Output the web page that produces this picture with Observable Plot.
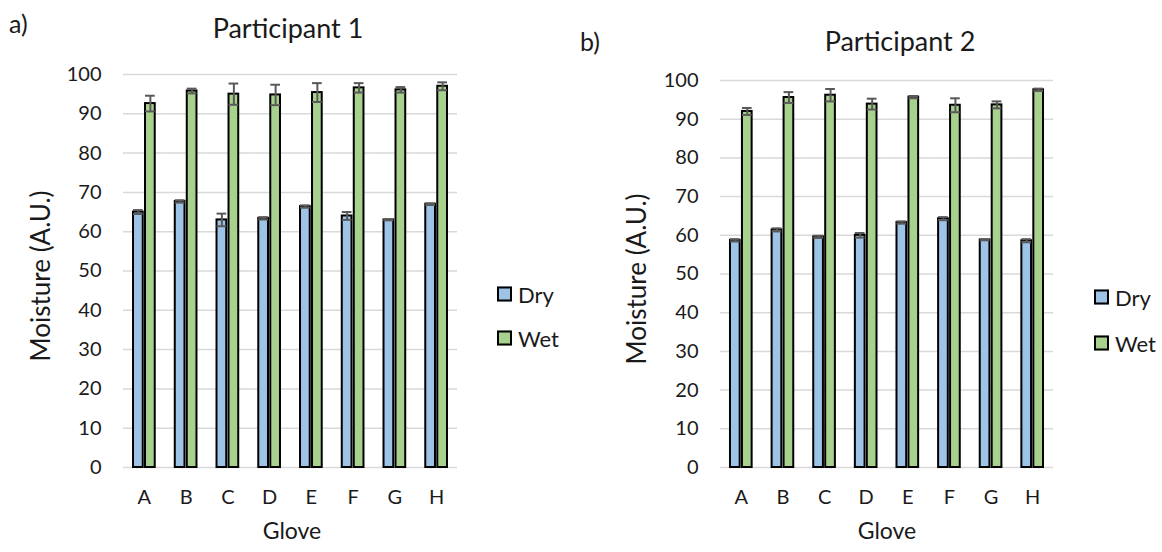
<!DOCTYPE html>
<html>
<head>
<meta charset="utf-8">
<script src="https://cdn.jsdelivr.net/npm/d3@7"></script>
<script src="https://cdn.jsdelivr.net/npm/@observablehq/plot@0.6"></script>
<style>
  html, body { margin: 0; padding: 0; background: #fff; }
  #wrap { position: relative; width: 1162px; height: 552px; overflow: hidden; font-family: Lato, "Open Sans", sans-serif; color: #1a1a1a; }
  .abs { position: absolute; white-space: nowrap; }
  .panel { position: absolute; top: 0; }
  .title { font-size: 27px; transform: translate(-50%, -50%); }
  .tag { font-size: 25px; transform: translate(0, -50%); }
  .ylab { font-size: 26px; transform: translate(-50%, -50%) rotate(-90deg); }
  .xlab { font-size: 23px; transform: translate(-50%, -50%); }
  .leg { font-size: 22px; display: flex; align-items: center; transform: translate(0, -50%); }
  .sw { width: 11px; height: 11px; border: 2px solid #000; margin-right: 6px; }
</style>
</head>
<body>
<div id="wrap"></div>
<script>
// ---- data ----
const gloves = ["A", "B", "C", "D", "E", "F", "G", "H"];
const seriesNames = ["Dry", "Wet"];
const yTicks = [0, 10, 20, 30, 40, 50, 60, 70, 80, 90, 100];

const p1Dry    = [65.0, 67.7, 63.0, 63.4, 66.4, 64.0, 63.0, 67.0];
const p1DryErr = [0.5, 0.3, 1.6, 0.3, 0.3, 1.0, 0.1, 0.2];
const p1Wet    = [92.6, 95.8, 95.0, 94.8, 95.4, 96.6, 96.1, 97.0];
const p1WetErr = [2.0, 0.6, 2.7, 2.6, 2.4, 1.2, 0.7, 1.0];

const p2Dry    = [58.7, 61.4, 59.6, 60.0, 63.3, 64.3, 58.8, 58.6];
const p2DryErr = [0.3, 0.4, 0.3, 0.6, 0.3, 0.4, 0.1, 0.4];
const p2Wet    = [92.0, 95.6, 96.2, 93.9, 95.7, 93.6, 93.7, 97.6];
const p2WetErr = [0.9, 1.4, 1.6, 1.4, 0.3, 1.8, 0.9, 0.3];

const colors = ["#9DC3E6", "#A9D18E"];

function makeRows(dry, dryErr, wet, wetErr) {
  return gloves.flatMap((g, i) => [
    {glove: g, series: "Dry", value: dry[i], err: dryErr[i]},
    {glove: g, series: "Wet", value: wet[i], err: wetErr[i]}
  ]);
}

function panel(rows, o) {
  return Plot.plot({
    width: o.width,
    height: 552,
    marginTop: o.top,
    marginBottom: 85,
    marginLeft: o.left,
    marginRight: o.right,
    style: {fontFamily: "Lato, 'Open Sans', sans-serif", fontSize: "20px", color: "#1a1a1a", background: "transparent", overflow: "visible"},
    fx: {domain: gloves, padding: 0, round: false, label: null},
    x: {domain: seriesNames, paddingInner: 0.19, paddingOuter: 0.835, round: false, axis: null},
    y: {domain: [0, 100], label: null},
    color: {domain: seriesNames, range: colors},
    marks: [
      Plot.gridY(yTicks, {stroke: "#d9d9d9", strokeOpacity: 1, strokeWidth: 1.5}),
      Plot.axisY(yTicks, {tickSize: 0, tickPadding: 22, label: null, fill: "#1a1a1a"}),
      Plot.axisFx({anchor: "bottom", tickSize: 0, tickPadding: 22, label: null, fill: "#1a1a1a"}),
      Plot.barY(rows, {fx: "glove", x: "series", y: "value", fill: "series", stroke: "#000", strokeWidth: 2}),
      Plot.ruleX(rows, {fx: "glove", x: "series", y1: d => d.value - d.err, y2: d => d.value + d.err, stroke: "#595959", strokeWidth: 2}),
      Plot.tickY(rows, {fx: "glove", x: "series", y: d => d.value + d.err, stroke: "#595959", strokeWidth: 2}),
      Plot.tickY(rows, {fx: "glove", x: "series", y: d => d.value - d.err, stroke: "#595959", strokeWidth: 2})
    ]
  });
}

const wrap = document.getElementById("wrap");

function addPanel(svg, left) {
  const d = document.createElement("div");
  d.className = "panel";
  d.style.left = left + "px";
  d.appendChild(svg);
  wrap.appendChild(d);
}
function addText(cls, text, x, y) {
  const d = document.createElement("div");
  d.className = "abs " + cls;
  d.style.left = x + "px";
  d.style.top = y + "px";
  d.textContent = text;
  wrap.appendChild(d);
}
function addLegend(x, y, i) {
  const d = document.createElement("div");
  d.className = "abs leg";
  d.style.left = x + "px";
  d.style.top = y + "px";
  const s = document.createElement("div");
  s.className = "sw";
  s.style.background = colors[i];
  d.appendChild(s);
  d.appendChild(document.createTextNode(seriesNames[i]));
  wrap.appendChild(d);
}

// Panel a: plot frame x 123..457, y 74..467
addPanel(panel(makeRows(p1Dry, p1DryErr, p1Wet, p1WetErr), {width: 470, left: 123, right: 13, top: 74}), 0);
// Panel b: plot frame x 720..1053, y 80..467
addPanel(panel(makeRows(p2Dry, p2DryErr, p2Wet, p2WetErr), {width: 475, left: 130, right: 12, top: 80}), 590);

addText("tag", "a)", 9, 23);
addText("title", "Participant 1", 288, 27);
addText("ylab", "Moisture (A.U.)", 40, 276);
addText("xlab", "Glove", 292, 530);
addLegend(497, 294, 0);
addLegend(497, 338, 1);

addText("tag", "b)", 580, 41);
addText("title", "Participant 2", 900, 40);
addText("ylab", "Moisture (A.U.)", 636, 279);
addText("xlab", "Glove", 887, 530);
addLegend(1094, 297, 0);
addLegend(1094, 343, 1);
</script>
</body>
</html>
